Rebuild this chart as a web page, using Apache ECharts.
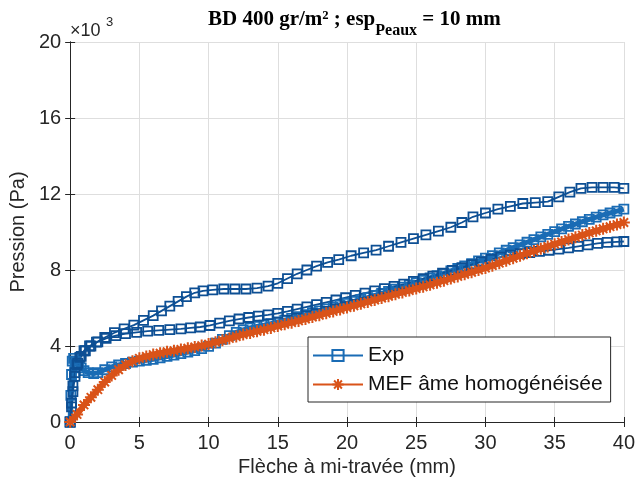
<!DOCTYPE html>
<html><head><meta charset="utf-8">
<script src="https://cdn.jsdelivr.net/npm/echarts@6/dist/echarts.min.js"></script>
<style>html,body{margin:0;padding:0;background:#fff}#c{width:638px;height:486px}</style>
</head><body><div id="c"></div>
<script>
// Exp specimen A (upper curve)
const expA_x = [0,0.1,0.2,0.35,0.5,0.7,1.0,1.4,1.9,2.5,3.2,3.9,4.6,5.3,6.0,6.6,7.2,7.8,8.4,9.0,9.6,10.3,11.1,11.9,12.7,13.5,14.3,15.0,15.7,16.4,17.1,17.8,18.6,19.4,20.3,21.2,22.1,23.0,23.9,24.8,25.7,26.6,27.5,28.3,29.1,30.0,30.9,31.8,32.7,33.6,34.5,35.3,36.1,36.9,37.7,38.5,39.3,40];
const expA_y = [0,800,1600,2400,3000,3400,3750,4000,4200,4450,4700,4900,5100,5350,5600,5850,6100,6350,6600,6800,6900,6950,7000,7000,7000,7050,7150,7300,7550,7800,8000,8200,8400,8550,8750,8900,9050,9250,9450,9650,9850,10050,10250,10500,10800,11000,11200,11350,11500,11550,11600,11850,12100,12300,12350,12350,12350,12300];
// Exp specimen B (dense curve ending ~11.2e3)
const expB_x = [0,0.05,0.1,0.15,0.25,0.4,0.6,0.8,1.0,1.3,1.7,2.0,2.5,3.0,3.5,4.0,4.5,5.0,5.5,6.0,6.5,7.0,7.5,8.0,8.5,9.0,9.5,10.0,10.5,11.0,11.5,12.0,12.5,13.0,13.5,14.0,14.5,15.0,15.5,16.0,16.5,17.0,17.5,18.0,18.5,19.0,19.5,20.0,20.5,21.0,21.5,22.0,22.5,23.0,23.5,24.0,24.5,25.0,25.5,26.0,26.5,27.0,27.5,28.0,28.5,29.0,29.5,30.0,30.5,31.0,31.5,32.0,32.5,33.0,33.5,34.0,34.5,35.0,35.5,36.0,36.5,37.0,37.5,38.0,38.5,39.0,39.5,40.0];
const expB_y = [0,1400,2500,3200,3350,3200,3000,2850,2700,2600,2550,2600,2750,2900,3000,3080,3150,3200,3250,3300,3380,3450,3520,3600,3680,3760,3860,3980,4150,4350,4550,4720,4850,4950,5030,5100,5180,5270,5360,5450,5550,5650,5750,5850,5950,6050,6150,6250,6350,6450,6550,6660,6770,6880,6990,7100,7220,7340,7460,7580,7700,7820,7950,8080,8210,8340,8480,8620,8760,8900,9040,9180,9320,9460,9600,9740,9880,10020,10160,10300,10420,10540,10660,10780,10900,11000,11100,11200];
// Exp specimen C (lower curve ending ~9.5e3)
const expC_x = [0,0.1,0.2,0.35,0.55,0.8,1.1,1.5,2.0,2.6,3.3,4.0,4.8,5.6,6.4,7.2,8.0,8.7,9.4,10.1,10.8,11.5,12.2,12.9,13.6,14.3,15.0,15.7,16.4,17.1,17.8,18.5,19.2,19.9,20.6,21.3,22.0,22.7,23.4,24.1,24.8,25.5,26.2,26.9,27.6,28.3,29.0,29.7,30.4,31.1,31.8,32.5,33.2,33.9,34.6,35.3,36.0,36.7,37.4,38.1,38.8,39.5,40.0];
const expC_y = [0,1000,1900,2600,3100,3450,3750,4000,4220,4400,4550,4650,4720,4780,4820,4860,4900,4950,5000,5080,5200,5320,5420,5500,5570,5640,5720,5820,5940,6060,6180,6300,6420,6540,6660,6780,6900,7020,7140,7260,7400,7540,7680,7830,7980,8130,8280,8430,8560,8680,8780,8860,8920,8980,9040,9100,9160,9240,9320,9400,9450,9480,9500];
// MEF
const mef_x = [0,0.5,1,1.5,2,2.5,3,3.5,4,4.5,5,5.5,6,6.5,7,7.5,8,8.5,9,9.5,10,10.5,11,11.5,12,12.5,13,13.5,14,14.5,15,15.5,16,16.5,17,17.5,18,18.5,19,19.5,20,20.5,21,21.5,22,22.5,23,23.5,24,24.5,25,25.5,26,26.5,27,27.5,28,28.5,29,29.5,30,30.5,31,31.5,32,32.5,33,33.5,34,34.5,35,35.5,36,36.5,37,37.5,38,38.5,39,39.5,40];
const mef_y = [0,400,900,1300,1700,2100,2450,2750,3000,3200,3350,3450,3550,3620,3700,3750,3820,3880,3950,4020,4100,4200,4300,4400,4500,4600,4680,4770,4860,4950,5050,5140,5230,5320,5420,5520,5620,5720,5820,5920,6020,6120,6220,6320,6420,6520,6620,6720,6820,6920,7020,7120,7220,7330,7440,7550,7660,7770,7880,8000,8100,8230,8360,8490,8620,8750,8880,9000,9120,9240,9360,9480,9600,9720,9840,9950,10060,10170,10280,10390,10500];

const xTicks = [0,5,10,15,20,25,30,35,40];
const yTicks = [0,4,8,12,16,20];
const titleMain = 'BD 400 gr/m² ; esp';
const titleSub = 'Peaux';
const titleEnd = ' = 10 mm';
const xName = 'Flèche à mi-travée (mm)';
const yName = 'Pression (Pa)';
const legendNames = ['Exp', 'MEF âme homogénéisée'];

const zip = (xs, ys) => xs.map((x, i) => [x, ys[i]]);
const BLUE = '#0d4f94';
const BLUE2 = '#1a6cb5';
const ORANGE = '#d95319';
const TXT = '#262626';
const SANS = 'Liberation Sans, Arial, sans-serif';
const SERIF = 'Liberation Serif, Times New Roman, serif';
const star = 'path://M5 0L5 10M0 5L10 5M1.5 1.5L8.5 8.5M8.5 1.5L1.5 8.5';

const chart = echarts.init(document.getElementById('c'), null, {renderer: 'canvas'});
const axisFont = {fontFamily: SANS, fontSize: 20, color: TXT};
const expStyle = (color, lw) => ({
  type: 'line', name: 'Exp', symbol: 'rect', symbolSize: 9, showSymbol: true,
  lineStyle: {color: color, width: lw},
  itemStyle: {color: 'rgba(255,255,255,0)', borderColor: color, borderWidth: 1.8},
  emphasis: {disabled: true}, animation: false, z: 3
});
chart.setOption({
  animation: false,
  title: {
    text: '{a|' + titleMain + '}{b|' + titleSub + '}{a|' + titleEnd + '}',
    left: 203, top: 4,
    textStyle: {
      rich: {
        a: {fontFamily: SERIF, fontWeight: 'bold', fontSize: 21, color: '#000', lineHeight: 30, verticalAlign: 'top', padding: [0,0,0,0]},
        b: {fontFamily: SERIF, fontWeight: 'bold', fontSize: 16, color: '#000', lineHeight: 30, verticalAlign: 'bottom', padding: [14,0,0,0]}
      }
    }
  },
  graphic: [{
    type: 'text', left: 70, top: 22,
    style: {text: '×10', font: '18px ' + SANS, fill: TXT}
  }, {
    type: 'text', left: 106, top: 16,
    style: {text: '3', font: '13px ' + SANS, fill: TXT}
  }],
  grid: {left: 68, right: 13, top: 42, bottom: 64, containLabel: false},
  legend: {
    data: legendNames, orient: 'vertical', left: 308, top: 337,
    backgroundColor: '#fff', borderColor: TXT, borderWidth: 1,
    padding: [8, 8, 7, 4], itemGap: 8, itemWidth: 50, itemHeight: 14,
    textStyle: {fontFamily: SANS, fontSize: 21, color: '#111'}
  },
  xAxis: [{
    type: 'value', min: 0, max: 40, interval: 5,
    name: xName, nameLocation: 'middle', nameGap: 35,
    nameTextStyle: axisFont,
    axisLine: {show: true, lineStyle: {color: TXT, width: 1}},
    axisTick: {show: true, inside: true, length: 5, lineStyle: {color: TXT}},
    axisLabel: Object.assign({}, axisFont, {margin: 11, formatter: v => xTicks.includes(v) ? String(v) : ''}),
    splitLine: {show: true, lineStyle: {color: '#dedede', width: 1}}
  }, {
    type: 'value', min: 0, max: 40, interval: 5, position: 'top',
    axisLine: {show: true, lineStyle: {color: TXT, width: 1}},
    axisTick: {show: true, inside: true, length: 5, lineStyle: {color: TXT}},
    axisLabel: {show: false}, splitLine: {show: false}
  }],
  yAxis: [{
    type: 'value', min: 0, max: 20000, interval: 4000,
    name: yName, nameLocation: 'middle', nameGap: 39, nameRotate: 90,
    nameTextStyle: axisFont,
    axisLine: {show: true, lineStyle: {color: TXT, width: 1}},
    axisTick: {show: true, inside: true, length: 5, lineStyle: {color: TXT}},
    axisLabel: Object.assign({}, axisFont, {margin: 9, formatter: v => { const k = v / 1000; return yTicks.includes(k) ? String(k) : ''; }}),
    splitLine: {show: true, lineStyle: {color: '#dedede', width: 1}}
  }, {
    type: 'value', min: 0, max: 20000, interval: 4000, position: 'right',
    axisLine: {show: true, lineStyle: {color: TXT, width: 1}},
    axisTick: {show: true, inside: true, length: 5, lineStyle: {color: TXT}},
    axisLabel: {show: false}, splitLine: {show: false}
  }],
  series: [
    Object.assign(expStyle(BLUE2, 5), {data: zip(expB_x, expB_y)}),
    Object.assign(expStyle(BLUE, 1.8), {data: zip(expC_x, expC_y)}),
    Object.assign(expStyle(BLUE, 1.8), {data: zip(expA_x, expA_y)}),
    {
      type: 'line', name: 'MEF âme homogénéisée', data: zip(mef_x, mef_y),
      symbol: star, symbolSize: 12, showSymbol: true,
      lineStyle: {color: ORANGE, width: 6},
      itemStyle: {color: ORANGE, borderColor: ORANGE, borderWidth: 2},
      emphasis: {disabled: true}, z: 4
    }
  ]
});
</script></body></html>
